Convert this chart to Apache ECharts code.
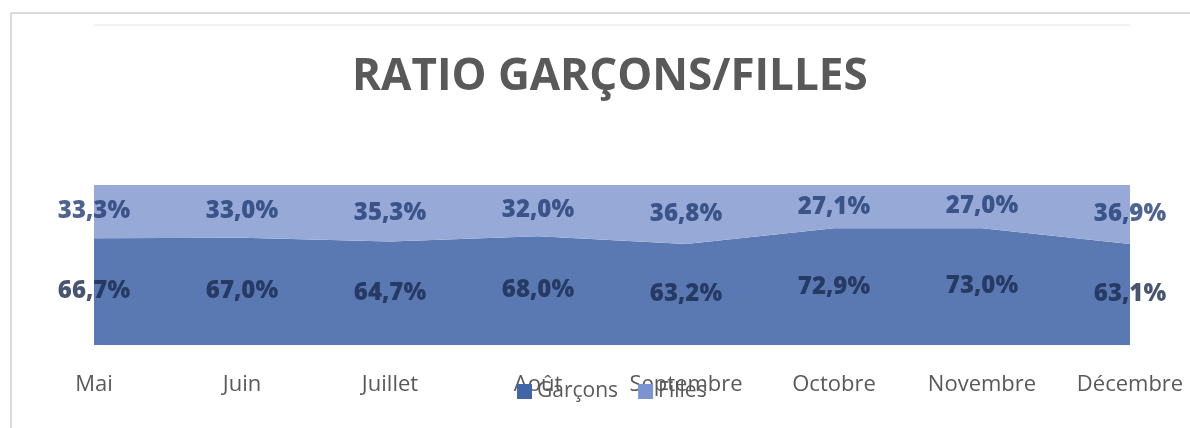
<!DOCTYPE html>
<html>
<head>
<meta charset="utf-8">
<script src="https://cdn.jsdelivr.net/npm/echarts@6/dist/echarts.min.js"></script>
<style>
  html, body { margin: 0; padding: 0; background: #fff; }
  #chart { width: 1190px; height: 428px; }
</style>
</head>
<body>
<div id="chart"></div>
<script>
// mois
const months = ['Mai', 'Juin', 'Juillet', 'Août', 'Septembre', 'Octobre', 'Novembre', 'Décembre']
// part des garçons / filles en %
const garcons = [66.7, 67.0, 64.7, 68.0, 63.2, 72.9, 73.0, 63.1]
const filles = [33.3, 33.0, 35.3, 32.0, 36.8, 27.1, 27.0, 36.9]

// étiquettes au milieu de chaque zone
const garconsLabels = garcons.map((v, i) => [i, v / 2, v])
const fillesLabels = filles.map((v, i) => [i, garcons[i] + v / 2, v])

const fmt = (p) => p.data[2].toFixed(1).replace('.', ',') + '%'
const font = 'Open Sans'

let myChart = echarts.init(document.getElementById('chart'))
myChart.setOption({
  animation: false,
  title: {
    text: 'RATIO GARÇONS/FILLES',
    left: 347,
    top: 50,
    textStyle: { fontFamily: font, fontSize: 44, fontWeight: 'bold', color: '#595959' }
  },
  legend: {
    data: ['Garçons', 'Filles'],
    left: 512,
    top: 376,
    icon: 'rect',
    itemWidth: 15,
    itemHeight: 15,
    itemGap: 20,
    textStyle: { fontFamily: font, fontSize: 21, color: '#595959' }
  },
  grid: { left: 94, right: 60, top: 185, bottom: 83 },
  xAxis: {
    type: 'category',
    boundaryGap: false,
    data: months,
    axisLine: { show: false },
    axisTick: { show: false },
    axisLabel: { margin: 29, fontFamily: font, fontSize: 22, color: '#595959' }
  },
  yAxis: {
    type: 'value',
    min: 0,
    max: 100,
    show: false,
    splitLine: { show: false }
  },
  // bordure du cadre
  graphic: [
    { type: 'line', shape: { x1: 11, y1: 13, x2: 1190, y2: 13 }, style: { stroke: '#d9d9d9', lineWidth: 2 } },
    { type: 'line', shape: { x1: 11, y1: 13, x2: 11, y2: 428 }, style: { stroke: '#d9d9d9', lineWidth: 2 } },
    { type: 'line', shape: { x1: 94, y1: 25, x2: 1130, y2: 25 }, style: { stroke: '#f2f2f2', lineWidth: 2 } }
  ],
  series: [
    {
      name: 'Garçons',
      type: 'line',
      stack: 'Total',
      data: garcons,
      showSymbol: false,
      color: '#4265a8',
      lineStyle: { width: 0 },
      areaStyle: { color: '#5a79b3', opacity: 1 }
    },
    {
      name: 'Filles',
      type: 'line',
      stack: 'Total',
      data: filles,
      showSymbol: false,
      color: '#7b93d0',
      lineStyle: { width: 0 },
      areaStyle: { color: '#97a9d7', opacity: 1 }
    },
    {
      name: 'lblG',
      type: 'scatter',
      data: garconsLabels,
      symbolSize: 0,
      silent: true,
      z: 5,
      label: {
        show: true,
        position: 'inside',
        formatter: fmt,
        fontFamily: font,
        fontSize: 24,
        fontWeight: 800,
        color: '#1a2b4f'
      }
    },
    {
      name: 'lblF',
      type: 'scatter',
      data: fillesLabels,
      symbolSize: 0,
      silent: true,
      z: 5,
      label: {
        show: true,
        position: 'inside',
        formatter: fmt,
        fontFamily: font,
        fontSize: 24,
        fontWeight: 800,
        color: '#243d75'
      }
    }
  ]
})
</script>
</body>
</html>
